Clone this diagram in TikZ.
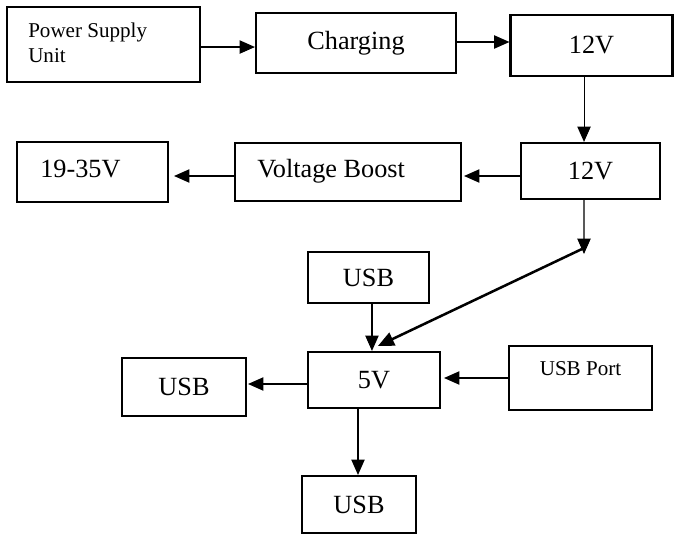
\documentclass[tikz,border=0pt]{standalone}
\usepackage{fontspec}
\setmainfont{Liberation Serif}
\usetikzlibrary{arrows.meta}
\tikzset{
  box/.style={draw, line width=1.6pt, inner sep=0pt, font=\fontsize{19.7}{24}\selectfont},
  bigtxt/.style={font=\fontsize{19.7}{24}\selectfont, inner sep=0pt},
  smalltxt/.style={font=\fontsize{15.8}{18.8}\selectfont, inner sep=0pt},
  conn/.style={line width=0.8pt, -{Triangle[length=11.5pt,width=10pt]}},
  thickconn/.style={line width=1.9pt, -{Triangle[length=12pt,width=10.5pt]}}
}
\begin{document}
\begin{tikzpicture}[x=0.75pt,y=-0.75pt]
\useasboundingbox (0,0) rectangle (675,534);
% boxes
\node[box, minimum width=144.75pt, minimum height=56.25pt] (psu) at (103.5,44.5) {};
\node[smalltxt, anchor=base west] (psutext1) at (28,38) {Power Supply};
\node[smalltxt, anchor=base west] (psutext2) at (28,63) {Unit};
\node[box, minimum width=150pt, minimum height=45pt] (chg) at (356,43) {Charging};
\node[box, minimum width=121.5pt, minimum height=45.75pt] (va) at (591.5,45.5) {12V};
\node[box, minimum width=104.25pt, minimum height=42pt] (vb) at (590.5,171) {12V};
\node[box, minimum width=169.5pt, minimum height=43.5pt] (boost) at (348,172) {};
\node[bigtxt, anchor=base west] (boosttext) at (257,178) {Voltage Boost};
\node[box, minimum width=113.25pt, minimum height=45pt] (hv) at (92.5,172) {};
\node[bigtxt, anchor=base west] (hvtext) at (40,178) {19-35V};
\node[box, minimum width=90.75pt, minimum height=38.25pt] (usbtop) at (368.5,277.5) {USB};
\node[box, minimum width=99pt, minimum height=42pt] (five) at (374,380) {5V};
\node[box, minimum width=107.25pt, minimum height=48pt] (port) at (580.5,378) {};
\node[smalltxt, anchor=base] (porttext) at ([yshift=-23.25pt]port.north) {USB Port};
\node[box, minimum width=93pt, minimum height=43.5pt] (usbleft) at (184,387) {USB};
\node[box, minimum width=85.5pt, minimum height=42.75pt] (usbbot) at (359,504.5) {USB};
% free ends
\coordinate (drop) at (584,254);
\coordinate (dstart) at (582,249);
% connectors
\draw[conn] ([yshift=-1.9pt]psu.east) -- ([yshift=-1.9pt]psu.east -| chg.west);
\draw[conn] ([yshift=0.75pt]chg.east) -- ([yshift=0.75pt]chg.east -| va.west);
\draw[conn] ([xshift=-5.6pt]va.south) -- ([xshift=-5.6pt]va.south |- vb.north);
\draw[conn] ([yshift=-3.75pt]vb.west) -- ([yshift=-3.75pt,xshift=1.5pt]vb.west -| boost.east);
\draw[conn] ([yshift=-3pt]boost.west) -- ([yshift=-3pt,xshift=3.75pt]boost.west -| hv.east);
\draw[conn] ([xshift=-4.9pt]vb.south) -- (drop);
\draw[thickconn] (dstart) -- ([xshift=3pt,yshift=3.75pt]five.north);
\draw[conn] ([xshift=2.6pt]usbtop.south) -- ([xshift=2.6pt]usbtop.south |- five.north);
\draw[conn] (port.west) -- ([xshift=2.25pt]port.west -| five.east);
\draw[conn] ([yshift=-3pt]five.west) -- ([yshift=-3pt,xshift=0.75pt]five.west -| usbleft.east);
\draw[conn] ([xshift=-12pt]five.south) -- ([xshift=-12pt]five.south |- usbbot.north);
\end{tikzpicture}
\end{document}
